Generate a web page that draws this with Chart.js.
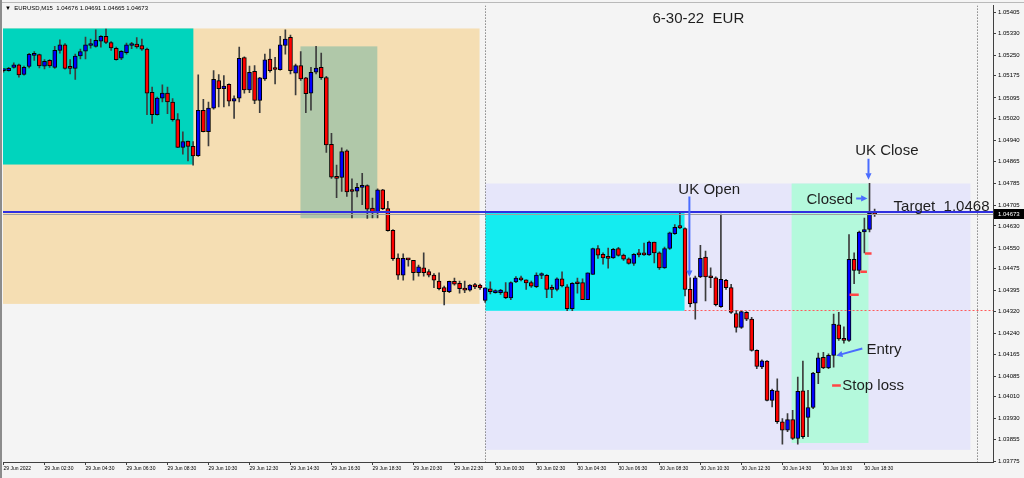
<!DOCTYPE html>
<html>
<head>
<meta charset="utf-8">
<title>EURUSD M15 - 6-30-22</title>
<script src="https://cdn.jsdelivr.net/npm/chart.js@4.4.0/dist/chart.umd.min.js"></script>
<style>
	html, body { margin: 0; padding: 0; background: #f4f4f4; }
	canvas { display: block; }
</style>
</head>
<body>
<canvas id="graficoCandles" width="1024" height="478"></canvas>
<script>
	// candles M15, 29 Jun 00:30 ate 30 Jun 19:00
	var abertura = [
		1.05194, 1.05194, 1.05206, 1.05215, 1.05180, 1.05209, 1.05249, 1.05252, 1.05210, 1.05231,
		1.05206, 1.05267, 1.05288, 1.05206, 1.05202, 1.05247, 1.05265, 1.05285, 1.05282, 1.05301,
		1.05318, 1.05296, 1.05275, 1.05239, 1.05259, 1.05285, 1.05290, 1.05285, 1.05272, 1.05115,
		1.05034, 1.05094, 1.05112, 1.05080, 1.05016, 1.04915, 1.04938, 1.04919, 1.04885, 1.05050,
		1.04972, 1.05058, 1.05158, 1.05128, 1.05144, 1.05083, 1.05094, 1.05241, 1.05124, 1.05191,
		1.05086, 1.05164, 1.05236, 1.05200, 1.05197, 1.05285, 1.05315, 1.05185, 1.05212, 1.05168,
		1.05112, 1.05188, 1.05206, 1.05169, 1.04926, 1.04810, 1.04806, 1.04903, 1.04756, 1.04756,
		1.04770, 1.04777, 1.04695, 1.04680, 1.04761, 1.04693, 1.04614, 1.04513, 1.04451, 1.04512,
		1.04505, 1.04460, 1.04478, 1.04464, 1.04452, 1.04430, 1.04406, 1.04391, 1.04429, 1.04422,
		1.04402, 1.04397, 1.04417, 1.04415, 1.04360, 1.04402, 1.04388, 1.04388, 1.04391, 1.04369,
		1.04427, 1.04440, 1.04434, 1.04424, 1.04410, 1.04450, 1.04451, 1.04406, 1.04400, 1.04438,
		1.04409, 1.04330, 1.04422, 1.04424, 1.04362, 1.04454, 1.04548, 1.04527, 1.04518, 1.04514,
		1.04548, 1.04524, 1.04511, 1.04494, 1.04527, 1.04531, 1.04525, 1.04571, 1.04532, 1.04478,
		1.04548, 1.04602, 1.04631, 1.04620, 1.04400, 1.04350, 1.04445, 1.04517, 1.04447, 1.04442,
		1.04337, 1.04433, 1.04406, 1.04312, 1.04262, 1.04316, 1.04292, 1.04178, 1.04118, 1.04139,
		1.03997, 1.04031, 1.03919, 1.03889, 1.03927, 1.03859, 1.04031, 1.03935, 1.03971, 1.04097,
		1.04153, 1.04115, 1.04160, 1.04271, 1.04222, 1.04214, 1.04509, 1.04469, 1.04608, 1.04617,
		1.04676];
	var maxima = [
		1.05199, 1.05206, 1.05222, 1.05218, 1.05210, 1.05257, 1.05263, 1.05254, 1.05234, 1.05234,
		1.05282, 1.05306, 1.05292, 1.05234, 1.05254, 1.05272, 1.05316, 1.05308, 1.05342, 1.05321,
		1.05345, 1.05299, 1.05279, 1.05267, 1.05294, 1.05297, 1.05314, 1.05308, 1.05276, 1.05134,
		1.05098, 1.05142, 1.05134, 1.05092, 1.05038, 1.04972, 1.04938, 1.04936, 1.05179, 1.05090,
		1.05080, 1.05194, 1.05180, 1.05176, 1.05146, 1.05102, 1.05279, 1.05244, 1.05210, 1.05212,
		1.05170, 1.05254, 1.05272, 1.05242, 1.05318, 1.05342, 1.05323, 1.05218, 1.05263, 1.05170,
		1.05206, 1.05282, 1.05258, 1.05173, 1.04966, 1.04851, 1.04914, 1.04906, 1.04801, 1.04785,
		1.04821, 1.04779, 1.04731, 1.04765, 1.04763, 1.04719, 1.04617, 1.04529, 1.04529, 1.04512,
		1.04505, 1.04488, 1.04532, 1.04472, 1.04457, 1.04460, 1.04412, 1.04430, 1.04441, 1.04430,
		1.04430, 1.04417, 1.04422, 1.04419, 1.04405, 1.04427, 1.04398, 1.04400, 1.04424, 1.04427,
		1.04446, 1.04448, 1.04434, 1.04430, 1.04460, 1.04460, 1.04453, 1.04415, 1.04442, 1.04463,
		1.04417, 1.04424, 1.04441, 1.04438, 1.04460, 1.04550, 1.04559, 1.04532, 1.04550, 1.04549,
		1.04552, 1.04528, 1.04514, 1.04530, 1.04545, 1.04568, 1.04575, 1.04571, 1.04536, 1.04553,
		1.04608, 1.04635, 1.04677, 1.04623, 1.04442, 1.04448, 1.04560, 1.04539, 1.04478, 1.04445,
		1.04673, 1.04436, 1.04418, 1.04324, 1.04324, 1.04319, 1.04298, 1.04180, 1.04144, 1.04141,
		1.04038, 1.04075, 1.03931, 1.03949, 1.03961, 1.04081, 1.04139, 1.04033, 1.04099, 1.04168,
		1.04171, 1.04166, 1.04310, 1.04316, 1.04264, 1.04599, 1.04532, 1.04611, 1.04659, 1.04785,
		1.04691];
	var minima = [
		1.05188, 1.05192, 1.05203, 1.05170, 1.05177, 1.05204, 1.05231, 1.05204, 1.05200, 1.05206,
		1.05202, 1.05257, 1.05199, 1.05182, 1.05162, 1.05236, 1.05236, 1.05275, 1.05279, 1.05279,
		1.05292, 1.05267, 1.05232, 1.05234, 1.05254, 1.05274, 1.05275, 1.05267, 1.05034, 1.05002,
		1.05032, 1.05080, 1.05038, 1.05010, 1.04914, 1.04891, 1.04866, 1.04851, 1.04882, 1.04971,
		1.04921, 1.05054, 1.05062, 1.05062, 1.05066, 1.05020, 1.05080, 1.05112, 1.05114, 1.05074,
		1.05041, 1.05158, 1.05188, 1.05146, 1.05196, 1.05254, 1.05182, 1.05106, 1.05158, 1.05041,
		1.05050, 1.05182, 1.05162, 1.04897, 1.04803, 1.04733, 1.04755, 1.04737, 1.04659, 1.04735,
		1.04707, 1.04657, 1.04659, 1.04659, 1.04689, 1.04611, 1.04505, 1.04436, 1.04433, 1.04484,
		1.04433, 1.04448, 1.04448, 1.04445, 1.04406, 1.04398, 1.04343, 1.04388, 1.04415, 1.04386,
		1.04388, 1.04393, 1.04402, 1.04400, 1.04352, 1.04383, 1.04386, 1.04381, 1.04366, 1.04362,
		1.04424, 1.04430, 1.04400, 1.04407, 1.04406, 1.04439, 1.04370, 1.04370, 1.04394, 1.04409,
		1.04322, 1.04322, 1.04386, 1.04362, 1.04362, 1.04454, 1.04512, 1.04491, 1.04477, 1.04512,
		1.04520, 1.04505, 1.04491, 1.04487, 1.04518, 1.04523, 1.04523, 1.04496, 1.04472, 1.04476,
		1.04545, 1.04599, 1.04620, 1.04376, 1.04336, 1.04292, 1.04442, 1.04358, 1.04406, 1.04340,
		1.04334, 1.04400, 1.04312, 1.04244, 1.04258, 1.04286, 1.04175, 1.04112, 1.04112, 1.03995,
		1.03973, 1.03913, 1.03838, 1.03883, 1.03855, 1.03838, 1.03859, 1.03865, 1.03967, 1.04057,
		1.04112, 1.04112, 1.04117, 1.04214, 1.04204, 1.04211, 1.04420, 1.04457, 1.04532, 1.04608,
		1.04665];
	var fechamento = [
		1.05196, 1.05202, 1.05215, 1.05178, 1.05206, 1.05253, 1.05254, 1.05211, 1.05228, 1.05211,
		1.05268, 1.05288, 1.05202, 1.05202, 1.05247, 1.05263, 1.05288, 1.05290, 1.05304, 1.05318,
		1.05296, 1.05276, 1.05234, 1.05264, 1.05288, 1.05288, 1.05280, 1.05272, 1.05112, 1.05034,
		1.05094, 1.05112, 1.05080, 1.05016, 1.04915, 1.04936, 1.04919, 1.04884, 1.05050, 1.04972,
		1.05058, 1.05162, 1.05128, 1.05138, 1.05083, 1.05092, 1.05239, 1.05124, 1.05188, 1.05086,
		1.05168, 1.05233, 1.05194, 1.05198, 1.05288, 1.05308, 1.05194, 1.05212, 1.05164, 1.05110,
		1.05188, 1.05203, 1.05168, 1.04924, 1.04807, 1.04803, 1.04900, 1.04754, 1.04755, 1.04770,
		1.04772, 1.04691, 1.04680, 1.04761, 1.04693, 1.04613, 1.04511, 1.04451, 1.04512, 1.04507,
		1.04460, 1.04482, 1.04460, 1.04451, 1.04433, 1.04402, 1.04391, 1.04429, 1.04419, 1.04402,
		1.04397, 1.04415, 1.04409, 1.04405, 1.04405, 1.04391, 1.04393, 1.04397, 1.04370, 1.04424,
		1.04441, 1.04434, 1.04423, 1.04411, 1.04452, 1.04454, 1.04400, 1.04400, 1.04438, 1.04412,
		1.04330, 1.04422, 1.04420, 1.04362, 1.04460, 1.04548, 1.04524, 1.04514, 1.04512, 1.04545,
		1.04523, 1.04509, 1.04494, 1.04527, 1.04525, 1.04525, 1.04571, 1.04532, 1.04478, 1.04548,
		1.04605, 1.04625, 1.04623, 1.04400, 1.04348, 1.04442, 1.04512, 1.04445, 1.04442, 1.04344,
		1.04436, 1.04406, 1.04316, 1.04262, 1.04319, 1.04292, 1.04178, 1.04120, 1.04140, 1.03997,
		1.04033, 1.03919, 1.03889, 1.03927, 1.03859, 1.04030, 1.03865, 1.03971, 1.04096, 1.04151,
		1.04115, 1.04160, 1.04274, 1.04220, 1.04214, 1.04509, 1.04469, 1.04608, 1.04617, 1.04677,
		1.04673];

	var rotulosTempo = [
		'29 Jun 2022', '29 Jun 02:30', '29 Jun 04:30', '29 Jun 06:30', '29 Jun 08:30', '29 Jun 10:30',
		'29 Jun 12:30', '29 Jun 14:30', '29 Jun 16:30', '29 Jun 18:30', '29 Jun 20:30', '29 Jun 22:30',
		'30 Jun 00:30', '30 Jun 02:30', '30 Jun 04:30', '30 Jun 06:30', '30 Jun 08:30', '30 Jun 10:30',
		'30 Jun 12:30', '30 Jun 14:30', '30 Jun 16:30', '30 Jun 18:30'];
	var indicesTempo = [0, 8, 16, 24, 32, 40, 48, 56, 64, 72, 80, 88, 96, 104, 112, 120, 128, 136, 144, 152, 160, 168];

	var precosEixo = [
		1.05405, 1.05330, 1.05250, 1.05175, 1.05095, 1.05020, 1.04940, 1.04865, 1.04785, 1.04705, 1.04630,
		1.04550, 1.04475, 1.04395, 1.04320, 1.04240, 1.04165, 1.04085, 1.04010, 1.03930, 1.03855, 1.03775];

	var precoAtual = 1.04673;
	var precoAlvo = 1.04680;
	var precoLinhaVermelha = 1.04324;
	var separadoresDia = [94, 190];

	// caixas de sessao (indice do candle / preco)
	var caixasSessao = [
		{ de: -1, ate: 92.9, topo: 1.05347, base: 1.04347, cor: '#f5deb3' },
		{ de: -1, ate: 37.05, topo: 1.05347, base: 1.04853, cor: '#00d4bd' },
		{ de: 57.95, ate: 72.95, topo: 1.05282, base: 1.04658, cor: '#b0c8a9' },
		{ de: 94.05, ate: 188.7, topo: 1.04784, base: 1.03817, cor: '#e6e6fa' },
		{ de: 94.05, ate: 132.9, topo: 1.04679, base: 1.04322, cor: '#14ecf0' },
		{ de: 153.8, ate: 168.8, topo: 1.04784, base: 1.03842, cor: '#b4f9dc' }
	];

	var textos = [
		{ texto: '6-30-22  EUR', i: 135.6, preco: 1.05383, alinhar: 'center' },
		{ texto: 'UK Open', i: 131.7, preco: 1.04762, alinhar: 'left' },
		{ texto: 'UK Close', i: 166.2, preco: 1.04903, alinhar: 'left' },
		{ texto: 'Closed', i: 156.7, preco: 1.04726, alinhar: 'left' },
		{ texto: 'Target  1.0468', i: 173.7, preco: 1.04701, alinhar: 'left' },
		{ texto: 'Entry', i: 168.4, preco: 1.04181, alinhar: 'left' },
		{ texto: 'Stop loss', i: 163.7, preco: 1.04051, alinhar: 'left' }
	];

	var setas = [
		{ i0: 133.85, p0: 1.04737, i1: 133.85, p1: 1.04445 },
		{ i0: 168.8, p0: 1.04874, i1: 168.8, p1: 1.04798 },
		{ i0: 166.4, p0: 1.04730, i1: 168.6, p1: 1.04730 },
		{ i0: 167.6, p0: 1.04185, i1: 162.5, p1: 1.04159 }
	];

	var marcasStop = [
		{ de: 168.1, ate: 169.4, preco: 1.04530 },
		{ de: 167.2, ate: 168.5, preco: 1.04464 },
		{ de: 165.1, ate: 166.9, preco: 1.04380 },
		{ de: 161.7, ate: 163.4, preco: 1.04051 }
	];

	var _dadosPavio = [];
	var _dadosCorpo = [];
	var _coresCorpo = [];

	for (var _i = 0; _i < abertura.length; _i++) {
		_dadosPavio.push({ x: _i, y: [minima[_i], maxima[_i]] });
		_dadosCorpo.push({ x: _i, y: [abertura[_i], fechamento[_i]] });
		_coresCorpo.push(fechamento[_i] >= abertura[_i] ? '#0000ff' : '#ff0000');
	}

	var _fonte = '"Liberation Sans", Arial, sans-serif';

	function desenharSeta(ctx, x0, y0, x1, y1) {
		var _angulo = Math.atan2(y1 - y0, x1 - x0);
		var _tam = 7;

		ctx.beginPath();
		ctx.moveTo(x0, y0);
		ctx.lineTo(x1 - Math.cos(_angulo) * (_tam - 1), y1 - Math.sin(_angulo) * (_tam - 1));
		ctx.stroke();

		ctx.beginPath();
		ctx.moveTo(x1, y1);
		ctx.lineTo(x1 - _tam * Math.cos(_angulo - 0.45), y1 - _tam * Math.sin(_angulo - 0.45));
		ctx.lineTo(x1 - _tam * Math.cos(_angulo + 0.45), y1 - _tam * Math.sin(_angulo + 0.45));
		ctx.closePath();
		ctx.fill();
	}

	var pluginAnotacoes = {
		id: 'anotacoes',

		beforeDraw: function(chart) {
			var ctx = chart.ctx;
			ctx.save();
			ctx.fillStyle = '#f4f4f4';
			ctx.fillRect(0, 0, chart.width, chart.height);
			ctx.restore();
		},

		beforeDatasetsDraw: function(chart) {
			var ctx = chart.ctx;
			var area = chart.chartArea;
			var sx = chart.scales.x;
			var sy = chart.scales.y;

			ctx.save();
			ctx.beginPath();
			ctx.rect(area.left, area.top, area.right - area.left, area.bottom - area.top);
			ctx.clip();

			caixasSessao.forEach(function(caixa) {
				var x0 = sx.getPixelForValue(caixa.de);
				var x1 = sx.getPixelForValue(caixa.ate);
				var y0 = sy.getPixelForValue(caixa.topo);
				var y1 = sy.getPixelForValue(caixa.base);
				ctx.fillStyle = caixa.cor;
				ctx.fillRect(x0, y0, x1 - x0, y1 - y0);
			});

			ctx.strokeStyle = '#505050';
			ctx.lineWidth = 1;
			ctx.setLineDash([1, 2]);
			separadoresDia.forEach(function(indice) {
				var x = Math.round(sx.getPixelForValue(indice)) + 0.5;
				ctx.beginPath();
				ctx.moveTo(x, area.top);
				ctx.lineTo(x, area.bottom);
				ctx.stroke();
			});
			ctx.restore();
		},

		afterDatasetsDraw: function(chart) {
			var ctx = chart.ctx;
			var area = chart.chartArea;
			var sx = chart.scales.x;
			var sy = chart.scales.y;

			ctx.save();
			ctx.beginPath();
			ctx.rect(area.left, area.top, area.right - area.left, area.bottom - area.top);
			ctx.clip();

			// linha vermelha pontilhada
			var _yVermelha = Math.round(sy.getPixelForValue(precoLinhaVermelha)) + 0.5;
			ctx.strokeStyle = '#ff5a5a';
			ctx.lineWidth = 1;
			ctx.setLineDash([2, 2]);
			ctx.beginPath();
			ctx.moveTo(sx.getPixelForValue(132.9), _yVermelha);
			ctx.lineTo(area.right, _yVermelha);
			ctx.stroke();
			ctx.setLineDash([]);

			// linha do preco atual (bid)
			var _yAtual = Math.round(sy.getPixelForValue(precoAtual)) + 0.5;
			ctx.strokeStyle = '#a0a0a0';
			ctx.beginPath();
			ctx.moveTo(area.left, _yAtual);
			ctx.lineTo(area.right, _yAtual);
			ctx.stroke();

			// linha azul do alvo
			var _yAlvo = Math.round(sy.getPixelForValue(precoAlvo));
			ctx.strokeStyle = '#2f2fe0';
			ctx.lineWidth = 2;
			ctx.beginPath();
			ctx.moveTo(area.left, _yAlvo);
			ctx.lineTo(area.right, _yAlvo);
			ctx.stroke();

			// marcas de stop
			ctx.strokeStyle = '#ff4646';
			ctx.lineWidth = 2.5;
			marcasStop.forEach(function(marca) {
				var y = sy.getPixelForValue(marca.preco);
				ctx.beginPath();
				ctx.moveTo(sx.getPixelForValue(marca.de), y);
				ctx.lineTo(sx.getPixelForValue(marca.ate), y);
				ctx.stroke();
			});

			// setas
			ctx.strokeStyle = '#4a6cff';
			ctx.fillStyle = '#4a6cff';
			ctx.lineWidth = 2;
			setas.forEach(function(seta) {
				desenharSeta(ctx,
					sx.getPixelForValue(seta.i0), sy.getPixelForValue(seta.p0),
					sx.getPixelForValue(seta.i1), sy.getPixelForValue(seta.p1));
			});

			// textos
			ctx.fillStyle = '#1e1e1e';
			ctx.font = '15px ' + _fonte;
			ctx.textBaseline = 'middle';
			textos.forEach(function(item) {
				ctx.textAlign = item.alinhar;
				ctx.fillText(item.texto, sx.getPixelForValue(item.i), sy.getPixelForValue(item.preco));
			});
			ctx.restore();

			// cabecalho
			ctx.save();
			ctx.fillStyle = '#000';
			ctx.font = '6px ' + _fonte;
			ctx.textBaseline = 'middle';
			ctx.textAlign = 'left';
			ctx.fillText('\u25BC  EURUSD,M15  1.04676 1.04691 1.04665 1.04673', 5, 8);

			// caixa do preco no eixo
			var _yCaixa = sy.getPixelForValue(precoAtual);
			ctx.fillStyle = '#000';
			ctx.fillRect(area.right + 1, Math.round(_yCaixa) - 5, 31, 10);
			ctx.fillStyle = '#fff';
			ctx.fillText(precoAtual.toFixed(5), area.right + 5, _yCaixa);
			ctx.restore();
		},

		afterDraw: function(chart) {
			var ctx = chart.ctx;
			ctx.save();
			ctx.fillStyle = '#8c8c8c';
			ctx.fillRect(0, 0, 2, chart.height);
			ctx.fillStyle = '#b9b9b9';
			ctx.fillRect(2, 2, chart.width - 2, 1);
			ctx.restore();
		}
	};

	var _grafico = new Chart(document.getElementById('graficoCandles').getContext('2d'), {
		type: 'bar',
		data: {
			datasets: [
				{
					label: 'Corpo',
					data: _dadosCorpo,
					backgroundColor: _coresCorpo,
					borderColor: '#000',
					borderWidth: 1,
					borderSkipped: false,
					barThickness: 4,
					minBarLength: 2,
					grouped: false,
					order: 0
				},
				{
					label: 'Pavio',
					data: _dadosPavio,
					backgroundColor: '#3c3c3c',
					borderWidth: 0,
					barThickness: 1,
					grouped: false,
					order: 1
				}
			]
		},
		options: {
			responsive: false,
			animation: false,
			events: [],
			layout: { padding: { left: 3, top: 3, right: 0, bottom: 0 } },
			plugins: {
				legend: { display: false },
				tooltip: { enabled: false }
			},
			scales: {
				x: {
					type: 'linear',
					min: -0.1,
					max: 193.1,
					offset: false,
					grid: { drawOnChartArea: false, drawTicks: true, tickLength: 3, color: '#404040', offset: false },
					border: { color: '#404040' },
					ticks: {
						autoSkip: false,
						maxRotation: 0,
						minRotation: 0,
						align: 'start',
						padding: 1,
						color: '#000',
						font: { family: _fonte, size: 5 },
						callback: function(valor, indice) { return rotulosTempo[indice]; }
					},
					afterBuildTicks: function(escala) {
						escala.ticks = indicesTempo.map(function(v) { return { value: v }; });
					},
					afterFit: function(escala) { escala.height = 16; }
				},
				y: {
					type: 'linear',
					position: 'right',
					min: 1.03773,
					max: 1.05430,
					grid: { drawOnChartArea: false, drawTicks: true, tickLength: 3, color: '#404040' },
					border: { color: '#404040' },
					ticks: {
						padding: 2,
						color: '#000',
						font: { family: _fonte, size: 6 },
						callback: function(valor) { return Number(valor).toFixed(5); }
					},
					afterBuildTicks: function(escala) {
						escala.ticks = precosEixo.map(function(v) { return { value: v }; });
					},
					afterFit: function(escala) { escala.width = 31; }
				}
			}
		},
		plugins: [pluginAnotacoes]
	});
</script>
</body>
</html>
